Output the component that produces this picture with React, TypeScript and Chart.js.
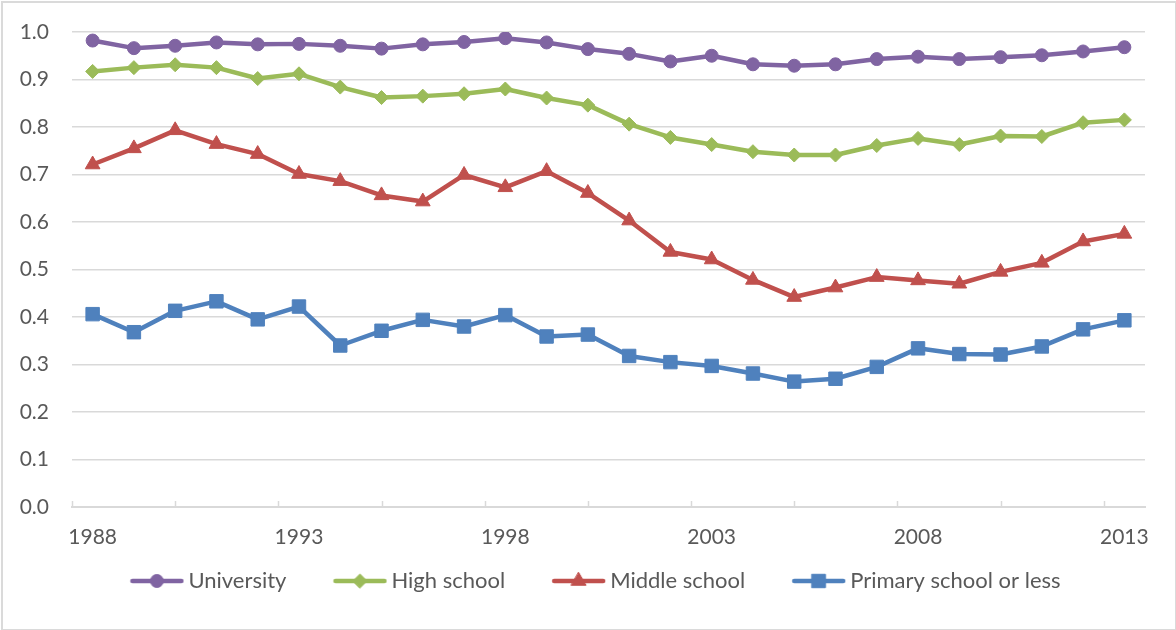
import React, { useEffect, useRef } from "react";
import { Chart, registerables } from "chart.js";
import { drawPoint } from "chart.js/helpers";

Chart.register(...registerables);

const years = [
  "1988", "1989", "1990", "1991", "1992", "1993", "1994", "1995", "1996", "1997",
  "1998", "1999", "2000", "2001", "2002", "2003", "2004", "2005", "2006", "2007",
  "2008", "2009", "2010", "2011", "2012", "2013",
];

const university = [
  0.982, 0.966, 0.971, 0.978, 0.974, 0.975, 0.971, 0.965, 0.974, 0.979,
  0.987, 0.978, 0.964, 0.954, 0.938, 0.950, 0.932, 0.929, 0.932, 0.943,
  0.948, 0.943, 0.947, 0.951, 0.959, 0.968,
];

const highSchool = [
  0.917, 0.925, 0.931, 0.925, 0.902, 0.912, 0.884, 0.862, 0.865, 0.870,
  0.880, 0.861, 0.846, 0.806, 0.778, 0.763, 0.748, 0.741, 0.741, 0.761,
  0.776, 0.763, 0.781, 0.780, 0.809, 0.815,
];

const middleSchool = [
  0.721, 0.755, 0.793, 0.764, 0.743, 0.701, 0.686, 0.656, 0.643, 0.699,
  0.673, 0.707, 0.661, 0.603, 0.537, 0.521, 0.478, 0.442, 0.462, 0.484,
  0.477, 0.470, 0.495, 0.514, 0.559, 0.575,
];

const primarySchool = [
  0.406, 0.368, 0.413, 0.433, 0.395, 0.422, 0.340, 0.371, 0.394, 0.380,
  0.404, 0.359, 0.363, 0.318, 0.305, 0.297, 0.281, 0.264, 0.270, 0.295,
  0.334, 0.322, 0.321, 0.338, 0.374, 0.393,
];

const seriesNames = ["University", "High school", "Middle school", "Primary school or less"];
const seriesColors = ["#8064A2", "#9BBB59", "#C0504D", "#4F81BD"];
const seriesMarkers = ["circle", "rectRot", "triangle", "rect"];
const markerRadius = [6.5, 7, 8.5, 9.5];

const yTickStep = 0.1;
const xLabelEvery = 5;
const xTickMarkEvery = 2.5;

const FONT = "Lato, 'Open Sans', sans-serif";
const TEXT_COLOR = "#595959";
const GRID_COLOR = "#d9d9d9";

const AXIS_FONT_SIZE = 21;
const LEGEND_FONT_SIZE = 22;
const LEGEND_PADDING = 21;
const LEGEND_BOX = 73;
const LEGEND_LINE = 55;

function makeLegendIcon(color: string, style: string, radius: number) {
  // icon canvas is wider than the legend box so the line ends close to the text
  const w = LEGEND_BOX + 2 * (LEGEND_FONT_SIZE / 2 - 4);
  const c = document.createElement("canvas");
  c.width = w;
  c.height = 24;
  const ctx = c.getContext("2d")!;
  const x0 = w - LEGEND_LINE;
  ctx.strokeStyle = color;
  ctx.lineWidth = 4.5;
  ctx.lineCap = "round";
  ctx.beginPath();
  ctx.moveTo(x0 + 3, 12);
  ctx.lineTo(w - 3, 12);
  ctx.stroke();
  ctx.fillStyle = color;
  ctx.strokeStyle = color;
  ctx.lineWidth = 1;
  drawPoint(ctx, { pointStyle: style, radius, rotation: 0, borderWidth: 1 } as any, x0 + LEGEND_LINE / 2, 12);
  return c;
}

const xTickMarks = {
  id: "xTickMarks",
  beforeDatasetsDraw(chart: any) {
    const xs = chart.scales.x;
    const ctx = chart.ctx;
    const catW = (xs.right - xs.left) / years.length;
    const step = catW * xTickMarkEvery;
    ctx.save();
    ctx.strokeStyle = GRID_COLOR;
    ctx.lineWidth = 1.5;
    for (let px = xs.left; px < xs.right - 1; px += step) {
      const x = Math.round(px) + 0.5;
      ctx.beginPath();
      ctx.moveTo(x, xs.top - 6);
      ctx.lineTo(x, xs.top);
      ctx.stroke();
    }
    ctx.restore();
  },
};

export default function App() {
  const canvasRef = useRef<HTMLCanvasElement | null>(null);

  useEffect(() => {
    if (!canvasRef.current) return;
    const values = [university, highSchool, middleSchool, primarySchool];
    const icons = seriesNames.map((_, i) =>
      makeLegendIcon(seriesColors[i], seriesMarkers[i], markerRadius[i])
    );

    const chart = new Chart(canvasRef.current, {
      type: "line",
      data: {
        labels: years,
        datasets: seriesNames.map((name, i) => ({
          label: name,
          data: values[i],
          borderColor: seriesColors[i],
          backgroundColor: seriesColors[i],
          borderWidth: 4.5,
          borderJoinStyle: "round" as const,
          borderCapStyle: "round" as const,
          pointStyle: seriesMarkers[i] as any,
          pointRadius: markerRadius[i],
          pointBorderWidth: 1,
          pointBackgroundColor: seriesColors[i],
          pointBorderColor: seriesColors[i],
          tension: 0,
          fill: false,
        })),
      },
      options: {
        animation: false,
        responsive: true,
        maintainAspectRatio: false,
        layout: { padding: { top: 32, left: 20, right: 31, bottom: 28 } },
        font: { family: FONT },
        plugins: {
          tooltip: { enabled: false },
          legend: {
            position: "bottom",
            labels: {
              color: TEXT_COLOR,
              font: { family: FONT, size: LEGEND_FONT_SIZE },
              usePointStyle: true,
              pointStyleWidth: LEGEND_BOX,
              padding: LEGEND_PADDING,
              generateLabels: (ch: any) =>
                ch.data.datasets.map((ds: any, i: number) => ({
                  text: ds.label,
                  pointStyle: icons[i],
                  fillStyle: seriesColors[i],
                  strokeStyle: seriesColors[i],
                  lineWidth: 0,
                  hidden: false,
                  datasetIndex: i,
                  fontColor: TEXT_COLOR,
                })),
            },
          },
        },
        scales: {
          x: {
            type: "category",
            offset: true,
            grid: { display: false, drawTicks: false },
            border: { display: true, color: GRID_COLOR, width: 2 },
            ticks: {
              autoSkip: false,
              maxRotation: 0,
              minRotation: 0,
              padding: 18,
              color: TEXT_COLOR,
              font: { family: FONT, size: AXIS_FONT_SIZE },
              callback: (_v: any, i: number) => (i % xLabelEvery === 0 ? years[i] : ""),
            },
            afterFit: (s: any) => {
              s.height = 42;
            },
          },
          y: {
            min: 0,
            max: 1,
            grid: { color: GRID_COLOR, lineWidth: 1.5, drawTicks: false },
            border: { display: false },
            ticks: {
              stepSize: yTickStep,
              padding: 23,
              color: TEXT_COLOR,
              font: { family: FONT, size: AXIS_FONT_SIZE, lineHeight: 0.8 },
              callback: (v: any) => Number(v).toFixed(1),
            },
            afterFit: (s: any) => {
              s.width = 52;
            },
          },
        },
      },
      plugins: [xTickMarks],
    });
    return () => chart.destroy();
  }, []);

  return (
    <div
      style={{
        position: "absolute",
        left: 0,
        top: 0,
        width: 1176,
        height: 630,
        background: "#ffffff",
      }}
    >
      <div
        style={{
          position: "absolute",
          left: 1,
          top: 1,
          width: 1172,
          height: 626,
          border: "2px solid #dadada",
        }}
      />
      <canvas ref={canvasRef} style={{ position: "absolute", left: 0, top: 0, width: 1176, height: 630 }} />
    </div>
  );
}
